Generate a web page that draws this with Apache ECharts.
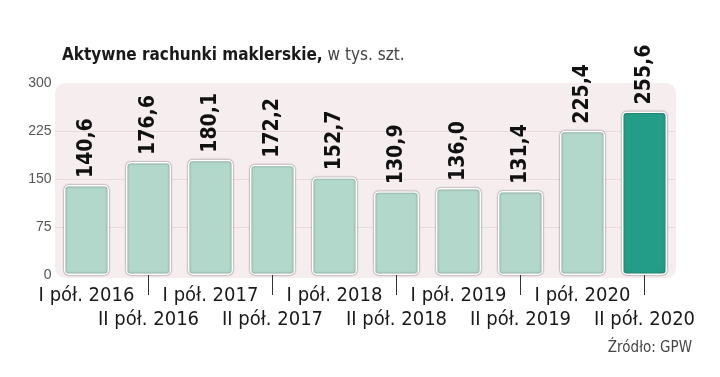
<!DOCTYPE html>
<html>
<head>
<meta charset="utf-8">
<script src="https://cdn.jsdelivr.net/npm/echarts@6/dist/echarts.min.js"></script>
<style>
    html, body { margin: 0; padding: 0; background: #fff; }
    #chart { width: 720px; height: 377px; }
</style>
</head>
<body>
<div id="chart"></div>
<script>
// dane z wykresu
const categories = ['I pół. 2016', 'II pół. 2016', 'I pół. 2017', 'II pół. 2017', 'I pół. 2018',
    'II pół. 2018', 'I pół. 2019', 'II pół. 2019', 'I pół. 2020', 'II pół. 2020'];
const accounts = [140.6, 176.6, 180.1, 172.2, 152.7, 130.9, 136.0, 131.4, 225.4, 255.6];
const yTicks = [0, 75, 150, 225, 300];
const highlightIndex = 9;

const narrow = "'Liberation Sans Narrow', 'DejaVu Sans Condensed', sans-serif";

const chart = echarts.init(document.getElementById('chart'));

chart.setOption({
    animation: false,
    title: {
        left: 57,
        top: 41,
        text: '{b|Aktywne rachunki maklerskie,} {r|w tys. szt.}',
        textStyle: {
            rich: {
                b: { fontFamily: narrow, fontWeight: 'bold', fontSize: 17, lineHeight: 20, color: '#1a1a1a' },
                r: { fontFamily: narrow, fontWeight: 'normal', fontSize: 17, lineHeight: 20, color: '#444' }
            }
        }
    },
    graphic: [{
        type: 'rect',
        left: 55,
        top: 83,
        z: -10,
        silent: true,
        shape: { width: 621, height: 195, r: 10 },
        style: { fill: '#f6edef' }
    }, {
        type: 'text',
        right: 28,
        top: 341,
        style: { text: 'Źródło: GPW', font: "15px " + narrow, fill: '#444' }
    }],
    grid: {
        left: 55.5,
        right: 44.5,
        top: 83,
        bottom: 102
    },
    xAxis: {
        type: 'category',
        data: categories,
        offset: 7,
        axisLine: { show: false },
        axisTick: {
            show: true,
            alignWithLabel: true,
            length: 20,
            interval: (idx) => idx % 2 === 1,
            lineStyle: { color: '#333', width: 1 }
        },
        axisLabel: {
            interval: 0,
            margin: 2,
            fontFamily: narrow,
            fontSize: 20,
            lineHeight: 24,
            color: '#1a1a1a',
            formatter: (val, idx) => idx % 2 === 1 ? '\n' + val : val
        }
    },
    yAxis: {
        type: 'value',
        min: yTicks[0],
        max: yTicks[yTicks.length - 1],
        interval: 75,
        axisLine: { show: false },
        axisTick: { show: false },
        axisLabel: {
            margin: 4,
            fontFamily: 'Liberation Sans, sans-serif',
            fontSize: 14,
            color: '#555'
        },
        splitLine: {
            show: true,
            lineStyle: {
                // bez linii na 0 i 300
                color: ['transparent', '#eadadd', '#eadadd', '#eadadd', 'transparent'],
                width: 1
            }
        }
    },
    series: [{
        type: 'bar',
        barWidth: 45,
        data: accounts.map((v, i) => i === highlightIndex
            ? { value: v, itemStyle: { color: '#249d88' } }
            : v),
        itemStyle: {
            color: '#b2d8cb',
            borderColor: '#ffffff',
            borderWidth: 1.5,
            borderRadius: 4,
            shadowColor: 'rgba(0,0,0,0.5)',
            shadowBlur: 2
        },
        label: {
            show: true,
            position: 'top',
            rotate: 90,
            align: 'left',
            verticalAlign: 'middle',
            distance: 7,
            fontFamily: narrow,
            fontWeight: 'bold',
            fontSize: 21,
            color: '#111',
            formatter: (p) => p.value.toFixed(1).replace('.', ',')
        }
    }]
});
</script>
</body>
</html>
